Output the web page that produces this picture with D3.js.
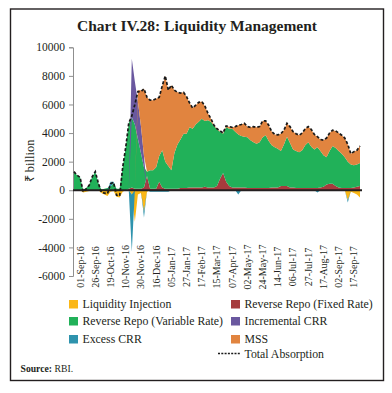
<!DOCTYPE html>
<html><head><meta charset="utf-8">
<script src="https://cdn.jsdelivr.net/npm/d3@7"></script>
<style>
body{margin:0;background:#fff}
svg{display:block}
text{font-family:"Liberation Serif","Times New Roman",serif;fill:#231f20}
</style>
</head><body>
<svg id="c" width="392" height="393"></svg>
<script>
// x-axis tick labels (one every 5th observation)
const tickLabels = ["01-Sep-16","26-Sep-16","19-Oct-16","10-Nov-16","30-Nov-16","16-Dec-16","05-Jan-17","27-Jan-17","17-Feb-17","15-Mar-17","07-Apr-17","02-May-17","24-May-17","14-Jun-17","06-Jul-17","27-Jul-17","17-Aug-17","02-Sep-17","17-Sep-17"];
const yTicks = [-6000,-4000,-2000,0,2000,4000,6000,8000,10000];

// series (₹ billion)
const liquidityInjection = [0,0,0,-150,-100,-50,0,0,0,-200,-300,-400,-100,-50,-450,-500,-100,0,0,-300,-2200,-300,-200,-1500,-100,0,0,0,0,0,0,0,0,0,0,0,0,0,0,0,0,0,0,0,0,0,0,0,0,0,0,0,0,0,0,0,0,0,0,0,0,0,0,0,0,0,0,0,0,0,0,0,0,0,0,0,0,0,0,0,0,0,0,0,0,0,0,0,0,0,-700,-100,-200,-300,-500];
const reverseRepoFixed = [0,0,0,0,0,0,0,0,0,0,0,0,0,0,0,0,0,0,100,200,100,100,100,200,1000,100,100,100,600,200,100,100,100,100,100,150,150,150,200,200,200,200,200,250,200,200,200,300,800,1200,600,300,200,200,200,200,200,150,150,150,150,150,150,150,150,200,200,200,300,300,300,200,200,150,150,150,150,150,150,150,150,200,250,400,450,450,300,200,150,150,150,150,200,250,300];
const reverseRepoVariable = [1300,1050,900,50,150,400,950,1300,500,50,100,150,250,500,100,100,1600,3000,4600,4900,4500,3500,2500,1400,300,1300,1300,1500,1800,2600,1900,1600,1300,2500,3100,3400,3800,3800,4200,4100,4400,4600,4800,4600,4700,4600,4300,3950,3300,2750,3800,4000,4100,3900,3700,3600,3550,3550,3350,3200,3100,3200,3550,3700,3300,2950,2800,2700,2450,2900,3450,3100,2650,2600,2500,2650,3000,3200,2900,2700,2850,2550,2200,1900,2300,2650,2650,2550,2400,2150,1850,1650,1550,1550,1600];
const incrementalCRR = [0,0,0,0,0,0,0,0,0,0,0,0,0,0,0,0,0,0,0,4100,3000,2600,1900,800,0,0,0,0,0,0,0,0,0,0,0,0,0,0,0,0,0,0,0,0,0,0,0,0,0,0,0,0,0,0,0,0,0,0,0,0,0,0,0,0,0,0,0,0,0,0,0,0,0,0,0,0,0,0,0,0,0,0,0,0,0,0,0,0,0,0,0,0,0,0,0];
const excessCRR = [0,0,0,0,0,0,0,0,0,0,0,0,350,100,0,0,0,0,0,-4000,0,0,0,-400,0,-100,-100,-100,-100,-100,-100,-100,0,0,0,0,0,0,0,0,0,0,0,0,0,0,0,0,0,0,0,0,0,0,-300,0,0,0,0,0,0,0,0,0,0,0,0,0,0,0,0,0,0,0,0,0,0,0,0,0,-150,0,0,0,0,0,0,0,0,0,-150,0,0,0,0];
const mss = [0,0,0,0,0,0,0,0,0,0,0,0,0,0,0,0,0,0,0,0,0,800,2500,4700,5200,4900,4900,4800,4100,4500,6000,5300,5950,4400,3650,3250,2900,2600,1700,1450,1350,1350,1200,1050,500,200,50,50,50,50,100,150,100,350,650,800,930,750,900,1100,1150,1100,1150,1000,1100,950,900,970,1200,1000,930,1150,1250,1200,1200,1200,1150,1100,1200,1050,750,800,1050,1350,1250,1100,1200,1250,1300,1350,1200,750,950,1000,1200];
const totalAbsorption = [1300,1050,900,-100,100,350,950,1300,500,-150,-200,-250,450,550,-350,-400,1600,3000,4700,5200,6000,6900,6900,7100,6500,6300,6300,6400,6500,7300,8000,7000,7350,7000,6850,6800,6850,6550,6100,5750,5950,6150,6200,5900,5400,5000,4550,4300,4150,4000,4500,4450,4400,4450,4550,4600,4680,4450,4400,4450,4400,4450,4850,4850,4550,4100,3900,3870,3950,4200,4680,4450,4100,3950,3850,4000,4300,4450,4250,3900,3750,3550,3500,3650,4000,4200,4150,4000,3850,3650,3200,2550,2700,2800,3100];

const colors = {fixed:"#a63b3d", variable:"#21b159", incremental:"#6a589f", mss:"#e1843f", injection:"#fbb716", excess:"#2e93ad"};

const svg = d3.select("#c");
svg.append("rect").attr("x",10.5).attr("y",9).attr("width",373).attr("height",371.5)
  .attr("fill","none").attr("stroke","#231f20").attr("stroke-width",1.4);

svg.append("text").attr("x",197).attr("y",30.5).attr("text-anchor","middle")
  .style("font-size","15.5px").style("font-weight","bold").text("Chart IV.28: Liquidity Management");

const n = totalAbsorption.length;
const x = d3.scaleLinear().domain([0, n-1]).range([74, 360]);
const y = d3.scaleLinear().domain([-6000, 10000]).range([276, 47.3]);

const rows = d3.range(n).map(i => ({
  fixed: reverseRepoFixed[i], variable: reverseRepoVariable[i], incremental: incrementalCRR[i],
  mss: mss[i], injection: liquidityInjection[i], excess: excessCRR[i]
}));
const keys = ["fixed","variable","incremental","mss","injection","excess"];
const series = d3.stack().keys(keys).offset(d3.stackOffsetDiverging)(rows);
const area = d3.area().x((d,i) => x(i)).y0(d => y(d[0])).y1(d => y(d[1]));

svg.append("g").selectAll("path").data(series).join("path")
  .attr("d", area).attr("fill", s => colors[s.key]);

// y axis
const ya = svg.append("g").attr("transform","translate(73,0)")
  .call(d3.axisLeft(y).tickValues(yTicks).tickSize(4).tickPadding(4).tickFormat(d => String(d)));
ya.select(".domain").attr("stroke","#8f8f8f");
ya.selectAll(".tick line").attr("stroke","#8f8f8f");
ya.selectAll(".tick text").style("font-size","11.5px").style("font-family",'"Liberation Serif",serif').attr("fill","#231f20");

// zero line
svg.append("line").attr("x1",73).attr("x2",362).attr("y1",y(0)).attr("y2",y(0))
  .attr("stroke","#231f20").attr("stroke-width",2.2);

// total absorption
svg.append("path").datum(totalAbsorption)
  .attr("d", d3.line().x((d,i) => x(i)).y(d => y(d)))
  .attr("fill","none").attr("stroke","#1a1a1a").attr("stroke-width",1.7).attr("stroke-dasharray","3,2");

// x labels
svg.append("g").selectAll("text").data(tickLabels).join("text")
  .attr("transform",(d,k) => `translate(${x(k*5)+6},267) rotate(-90)`)
  .attr("text-anchor","middle").attr("dy","0.35em").style("font-size","10px").text(d => d);

// y title
svg.append("text").attr("transform","translate(30,161) rotate(-90)")
  .attr("text-anchor","middle").attr("dy","0.35em").style("font-size","12.5px").text("₹ billion");

// legend
const legendItems = [
  {label:"Liquidity Injection", key:"injection", c:0, r:0},
  {label:"Reverse Repo (Fixed Rate)", key:"fixed", c:1, r:0},
  {label:"Reverse Repo (Variable Rate)", key:"variable", c:0, r:1},
  {label:"Incremental CRR", key:"incremental", c:1, r:1},
  {label:"Excess CRR", key:"excess", c:0, r:2},
  {label:"MSS", key:"mss", c:1, r:2}
];
const colX = [69, 231], rowY = [300, 317, 335];
const lg = svg.append("g");
legendItems.forEach(it => {
  lg.append("rect").attr("x",colX[it.c]).attr("y",rowY[it.r]).attr("width",9).attr("height",8.5).attr("fill",colors[it.key]);
  lg.append("text").attr("x",colX[it.c]+13.5).attr("y",rowY[it.r]+8).style("font-size","11.8px").text(it.label);
});
lg.append("line").attr("x1",218).attr("x2",240).attr("y1",353.5).attr("y2",353.5)
  .attr("stroke","#1a1a1a").attr("stroke-width",1.3).attr("stroke-dasharray","2,1.3");
lg.append("text").attr("x",244.5).attr("y",357.5).style("font-size","11.8px").text("Total Absorption");

const src = svg.append("text").attr("x",20.5).attr("y",372).style("font-size","9.7px");
src.append("tspan").style("font-weight","bold").text("Source:");
src.append("tspan").text(" RBI.");
</script>
</body></html>
